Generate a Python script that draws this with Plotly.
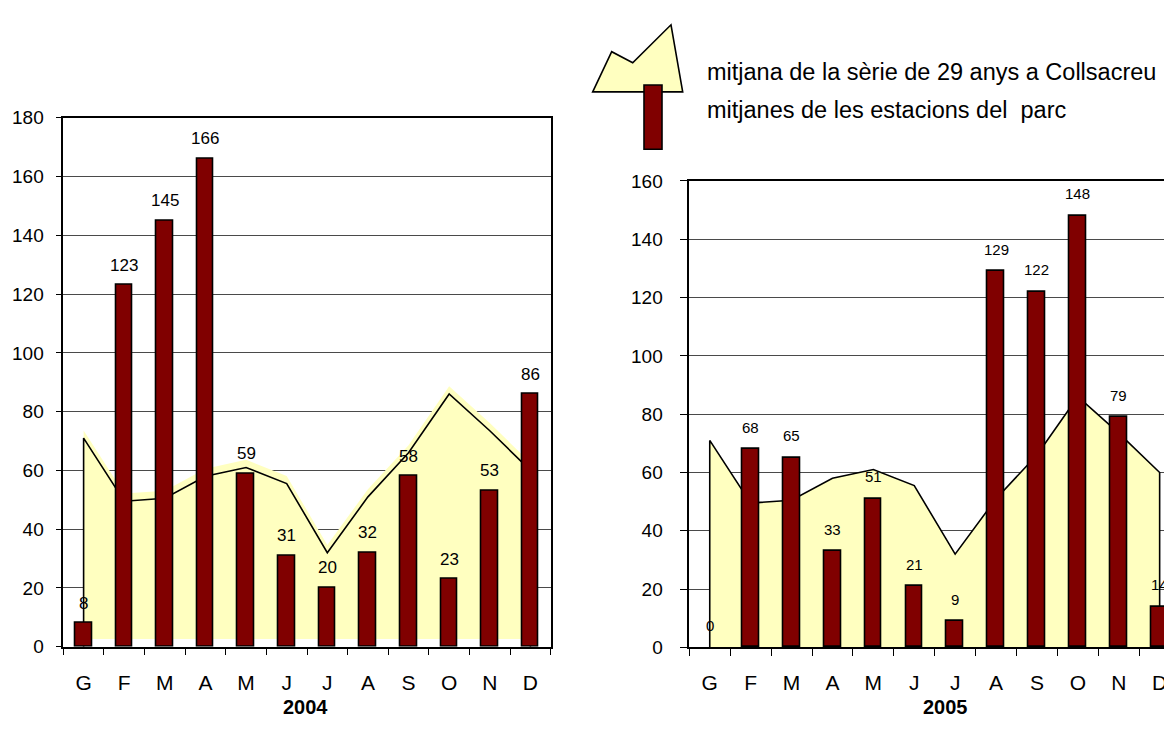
import plotly.graph_objects as go

# ---------------- data ----------------
months = ["G", "F", "M", "A", "M", "J", "J", "A", "S", "O", "N", "D"]
normal_29y = [71, 49.5, 50.5, 58, 61, 55.5, 32, 51, 66, 86, 73.5, 60]   # mitjana Collsacreu
park_2004 = [8, 123, 145, 166, 59, 31, 20, 32, 58, 23, 53, 86]
park_2005 = [0, 68, 65, 33, 51, 21, 9, 129, 122, 148, 79, 14]
title_2004 = "2004"
title_2005 = "2005"
legend_area = "mitjana de la sèrie de 29 anys a Collsacreu"
legend_bar = "mitjanes de les estacions del\u00a0 parc"

# ---------------- style ----------------
W, H = 1172, 743
OFF = 8  # page body margin: the figure is drawn 8px right/down
FONT = "Liberation Sans, Arial, sans-serif"
YELLOW = "#FFFFC0"
MAROON = "#800000"
GRID = "#4a4a4a"
SHIFT_2004 = 2.6  # the 2004 yellow fill is printed slightly above its outline

def px(x):
    return (x - OFF) / W

def py(y):
    return 1 - (y - OFF) / H

xi = list(range(len(months)))
outline_x = [xi[0]] + xi + [xi[-1]]
outline_2004 = [0] + normal_29y + [0]
outline_2005 = [0] + normal_29y + [0]

fig = go.Figure()

# ---- 2004: area (base axes), bars (overlay y) ----
fig.add_trace(go.Scatter(x=xi, y=[SHIFT_2004] * len(xi), mode="lines",
                         line=dict(width=0), hoverinfo="skip", showlegend=False,
                         xaxis="x", yaxis="y"))
fig.add_trace(go.Scatter(x=xi, y=[v + SHIFT_2004 for v in normal_29y], mode="lines",
                         line=dict(width=0), fill="tonexty", fillcolor=YELLOW,
                         showlegend=False, xaxis="x", yaxis="y"))
fig.add_trace(go.Scatter(x=outline_x, y=outline_2004, mode="lines",
                         line=dict(color="black", width=1.6), showlegend=False,
                         xaxis="x", yaxis="y"))
fig.add_trace(go.Bar(x=xi, y=park_2004, width=0.41,
                     marker=dict(color=MAROON,
                                 line=dict(color="black",
                                           width=[1.6 if v > 0 else 0 for v in park_2004])),
                     showlegend=False, xaxis="x", yaxis="y3"))

# ---- 2005 ----
fig.add_trace(go.Scatter(x=outline_x, y=outline_2005, mode="lines", fill="tozeroy",
                         fillcolor=YELLOW, line=dict(color="black", width=1.6),
                         showlegend=False, xaxis="x2", yaxis="y2"))
fig.add_trace(go.Bar(x=xi, y=park_2005, width=0.41,
                     marker=dict(color=MAROON,
                                 line=dict(color="black",
                                           width=[1.6 if v > 0 else 0 for v in park_2005])),
                     showlegend=False, xaxis="x2", yaxis="y4"))

# ---- axes ----
left_dom_x = [px(63.3), px(550.7)]
left_dom_y = [py(655.0), py(110.7)]
right_dom_x = [px(689.3), 1.0]
right_dom_y = [py(655.7), py(175.7)]
cat_w_right = 40.9
right_range = [-0.5, -0.5 + (W + OFF - 689.3) / cat_w_right]

def xaxis_common(domain, rng, anchor):
    return dict(domain=domain, range=rng, anchor=anchor, tickmode="array",
                tickvals=xi, ticktext=months, ticks="", showgrid=False, zeroline=False,
                showline=True, linecolor="black", linewidth=1.5, mirror=True,
                tickfont=dict(family=FONT, size=21, color="black"),
                ticklabelstandoff=16,
                minor=dict(tick0=0.5, dtick=1, ticks="outside", ticklen=7,
                           tickcolor="black", tickwidth=1.3, showgrid=False))

def yaxis_common(domain, rng, anchor, mirror, standoff, ticklen):
    return dict(domain=domain, range=rng, anchor=anchor, dtick=20, tick0=0,
                showgrid=True, gridcolor=GRID, gridwidth=1, zeroline=False,
                showline=True, linecolor="black", linewidth=1.5, mirror=mirror,
                ticks="outside", ticklen=ticklen, tickcolor="black", tickwidth=1.3,
                tickfont=dict(family=FONT, size=19, color="black"),
                ticklabelstandoff=standoff)

fig.update_layout(
    width=W, height=H, autosize=False,
    margin=dict(l=0, r=0, t=0, b=0),
    paper_bgcolor="white", plot_bgcolor="white",
    bargap=0, showlegend=False,
    xaxis=xaxis_common(left_dom_x, [-0.5, 11.5], "y"),
    yaxis=yaxis_common(left_dom_y, [0, 180], "x", True, 8, 6),
    yaxis3=dict(overlaying="y", range=[0, 180], visible=False, anchor="x"),
    xaxis2=xaxis_common(right_dom_x, right_range, "y2"),
    yaxis2=yaxis_common(right_dom_y, [0, 160], "x2", False, 13, 8),
    yaxis4=dict(overlaying="y2", range=[0, 160], visible=False, anchor="x2"),
)

# ---- data labels ----
ann = []
for i, v in enumerate(park_2004):
    ann.append(dict(x=xi[i], y=v, xref="x", yref="y", text=str(v), showarrow=False,
                    yanchor="middle", yshift=20,
                    font=dict(family=FONT, size=17, color="black")))
for i, v in enumerate(park_2005):
    ann.append(dict(x=xi[i], y=v, xref="x2", yref="y2", text=str(v), showarrow=False,
                    yanchor="middle", yshift=22,
                    font=dict(family=FONT, size=15, color="black")))

# ---- titles ----
ann.append(dict(x=px(305), y=py(717), xref="paper", yref="paper", text="<b>%s</b>" % title_2004,
                showarrow=False, xanchor="center", yanchor="middle",
                font=dict(family=FONT, size=20, color="black")))
ann.append(dict(x=px(945), y=py(717), xref="paper", yref="paper", text="<b>%s</b>" % title_2005,
                showarrow=False, xanchor="center", yanchor="middle",
                font=dict(family=FONT, size=20, color="black")))

# ---- legend texts ----
ann.append(dict(x=px(705), y=py(64), xref="paper", yref="paper", text=legend_area,
                showarrow=False, xanchor="left", yanchor="middle",
                font=dict(family=FONT, size=23.5, color="black")))
ann.append(dict(x=px(705), y=py(103), xref="paper", yref="paper", text=legend_bar,
                showarrow=False, xanchor="left", yanchor="middle",
                font=dict(family=FONT, size=23.5, color="black")))
fig.update_layout(annotations=ann)

# ---- legend symbols ----
pts = [(592.7, 84), (611.7, 42.7), (632.7, 54), (671, 15), (682.7, 84)]
path = "M " + " L ".join("%.5f,%.5f" % (px(a), py(b)) for a, b in pts) + " Z"
fig.add_shape(type="path", path=path, xref="paper", yref="paper",
              fillcolor=YELLOW, line=dict(color="black", width=1.6))
fig.add_shape(type="rect", x0=px(644), x1=px(662), y0=py(143), y1=py(77),
              xref="paper", yref="paper", fillcolor=MAROON,
              line=dict(color="black", width=1.6))

fig.write_html("out.html")
